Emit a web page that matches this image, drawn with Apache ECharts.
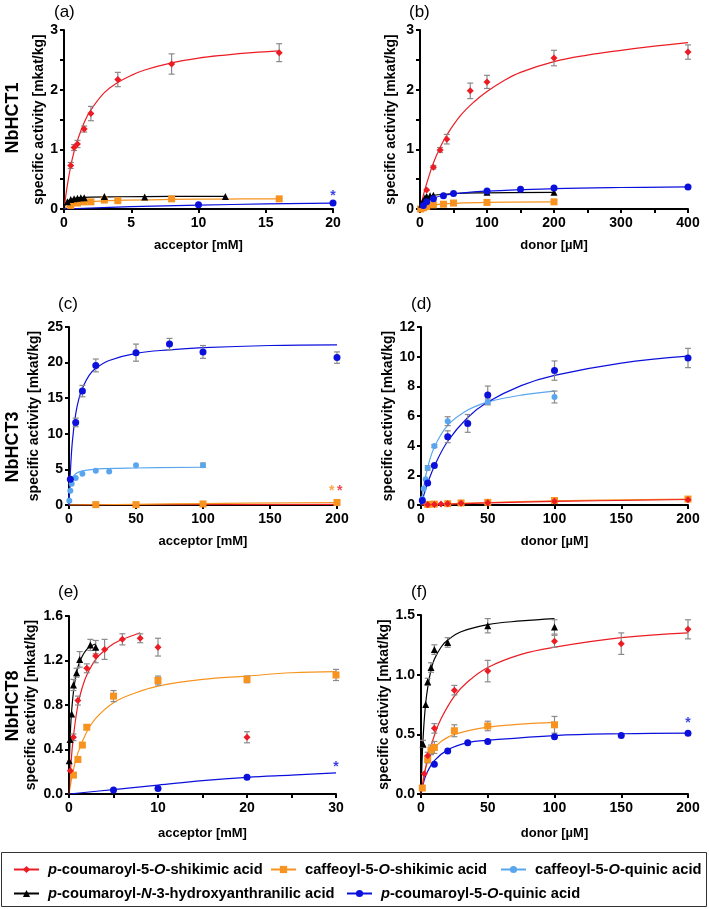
<!DOCTYPE html>
<html>
<head>
<meta charset="UTF-8">
<title></title>
<style>html,body{margin:0;padding:0;background:#fff;} #main{width:709px;height:909px;}</style>
</head>
<body>
<div id="main"></div>
<script src="https://cdn.jsdelivr.net/npm/echarts@6/dist/echarts.min.js"></script>
<script>
// compounds: pcs = p-coumaroyl-5-O-shikimic, cs = caffeoyl-5-O-shikimic, cq = caffeoyl-5-O-quinic,
// pch = p-coumaroyl-N-3-hydroxyanthranilic, pcq = p-coumaroyl-5-O-quinic
var names = ['p-coumaroyl-5-O-shikimic acid', 'caffeoyl-5-O-shikimic acid', 'caffeoyl-5-O-quinic acid',
  'p-coumaroyl-N-3-hydroxyanthranilic acid', 'p-coumaroyl-5-O-quinic acid'];
var richNames = ['{i|p}-coumaroyl-5-{i|O}-shikimic acid', 'caffeoyl-5-{i|O}-shikimic acid', 'caffeoyl-5-{i|O}-quinic acid',
  '{i|p}-coumaroyl-{i|N}-3-hydroxyanthranilic acid', '{i|p}-coumaroyl-5-{i|O}-quinic acid'];
var colors = ['#ec1c24', '#f7931e', '#5aa6ee', '#000000', '#0b10dc'];
var symbols = ['diamond', 'rect', 'circle', 'triangle', 'circle'];
var sizes = [7, 7, 6, 7, 7];
var PCS = 0, CS = 1, CQ = 2, PCH = 3, PCQ = 4;

// panel titles / axis
var panelTags = ['(a)', '(b)', '(c)', '(d)', '(e)', '(f)'];
var enzymes = ['NbHCT1', 'NbHCT3', 'NbHCT8'];
var xMax = [20, 400, 200, 200, 30, 200];
var xStep = [5, 100, 50, 50, 10, 50];
var yMax = [3, 3, 25, 12, 1.6, 1.5];
var yStep = [1, 1, 5, 2, 0.4, 0.5];

// points: [x, y, sd]   fits: [x, y]
// (a) NbHCT1, acceptor
var a_pcs_pts = [[0.5,0.73,0.05],[0.75,1.03,0.05],[1,1.09,0.06],[1.5,1.34,0.05],[2,1.6,0.12],[4,2.17,0.12],[8,2.43,0.17],[16,2.62,0.15]];
var a_pcs_fit = [[0,0],[0.25,0.4],[0.5,0.72],[0.75,0.96],[1,1.15],[1.5,1.45],[2,1.66],[3,1.95],[4,2.12],[5,2.24],[6,2.33],[8,2.45],[10,2.53],[12,2.58],[14,2.62],[16,2.65]];
var a_pch_pts = [[0.25,0.12,0],[0.5,0.16,0],[0.75,0.17,0],[1,0.18,0],[1.25,0.19,0],[1.5,0.19,0],[3,0.21,0],[6,0.2,0],[12,0.21,0]];
var a_pch_fit = [[0,0],[0.1,0.08],[0.25,0.13],[0.5,0.16],[1,0.185],[2,0.2],[4,0.205],[8,0.21],[12,0.21]];
var a_cs_pts = [[0.5,0.06,0],[1,0.1,0],[1.5,0.12,0],[2,0.12,0],[3,0.15,0],[4,0.14,0],[8,0.17,0],[16,0.17,0]];
var a_cs_fit = [[0,0],[0.25,0.04],[0.5,0.07],[1,0.1],[2,0.125],[4,0.145],[8,0.16],[12,0.167],[16,0.17]];
var a_pcq_pts = [[10,0.07,0],[20,0.1,0]];
var a_pcq_fit = [[0,0],[5,0.04],[10,0.065],[15,0.085],[20,0.1]];
var a_stars = [[20,0.22,PCQ]];

// (b) NbHCT1, donor
var b_pcs_pts = [[10,0.32,0],[20,0.7,0.03],[30,0.99,0.04],[40,1.17,0.08],[75,1.98,0.13],[100,2.13,0.11],[200,2.53,0.13],[400,2.63,0.12]];
var b_pcs_fit = [[0,0],[5,0.23],[10,0.43],[20,0.77],[30,1.03],[40,1.24],[60,1.56],[80,1.79],[100,1.97],[125,2.15],[150,2.29],[200,2.47],[250,2.58],[300,2.66],[350,2.73],[400,2.79]];
var b_pcq_pts = [[5,0.06,0],[10,0.12,0],[20,0.17,0],[35,0.22,0],[50,0.26,0],[100,0.3,0],[150,0.33,0],[200,0.35,0],[400,0.37,0]];
var b_pcq_fit = [[0,0],[5,0.07],[10,0.12],[20,0.18],[35,0.23],[50,0.255],[100,0.3],[200,0.34],[300,0.36],[400,0.37]];
var b_pch_pts = [[2.5,0.08,0],[5,0.14,0],[7.5,0.19,0],[10,0.21,0],[15,0.22,0],[20,0.23,0],[100,0.28,0],[200,0.28,0]];
var b_pch_fit = [[0,0],[2.5,0.1],[5,0.15],[10,0.2],[20,0.23],[50,0.26],[100,0.27],[200,0.28]];
var b_cs_pts = [[1,0.0,0],[5,0.02,0],[10,0.04,0],[20,0.07,0],[35,0.08,0],[50,0.1,0],[100,0.11,0],[200,0.12,0]];
var b_cs_fit = [[0,0],[5,0.025],[10,0.045],[20,0.065],[35,0.085],[50,0.095],[100,0.11],[200,0.12]];

// (c) NbHCT3, acceptor
var c_pcq_pts = [[1,3.6,0],[5,11.6,0.6],[10,16.0,0.8],[20,19.6,0.9],[50,21.4,1.2],[75,22.6,0.8],[100,21.5,0.9],[200,20.7,0.8]];
var c_pcq_fit = [[0,0],[0.5,2.4],[1,4.5],[2.5,8.9],[5,12.8],[7.5,15],[10,16.4],[15,18.2],[20,19.2],[30,20.3],[50,21.3],[75,21.8],[100,22.1],[150,22.4],[200,22.5]];
var c_cq_pts = [[0.25,0.6,0],[1,2.0,0],[2,3.0,0],[5,3.8,0],[10,4.4,0],[20,4.8,0],[30,4.7,0],[50,5.6,0],[100,5.6,0.3]];
var c_cq_fit = [[0,0],[0.5,1.8],[1,2.7],[2,3.6],[5,4.4],[10,4.8],[20,5.05],[50,5.2],[100,5.3]];
var c_cs_pts = [[20,0.05,0],[50,0.05,0],[100,0.15,0],[200,0.35,0]];
var c_cs_fit = [[0,0],[50,0.1],[100,0.2],[200,0.35]];
var c_pcs_fit = [[0,0],[200,0.1]];
var c_stars = [[196,1.9,CS],[202,1.9,PCS]];

// (d) NbHCT3, donor
var d_pcq_pts = [[1,0.3,0],[5,1.48,0],[10,2.67,0],[20,4.6,0.4],[35,5.5,0.6],[50,7.42,0.6],[100,9.06,0.65],[200,9.91,0.65]];
var d_pcq_fit = [[0,0],[2,0.63],[5,1.48],[10,2.62],[20,4.3],[35,5.9],[50,6.94],[75,8.05],[100,8.74],[150,9.57],[200,10.04]];
var d_cq_pts = [[1,0.4,0],[2,1.1,0],[3.5,1.73,0],[5,2.5,0.15],[10,3.97,0.1],[20,5.65,0.3],[50,6.95,0.2],[100,7.28,0.4]];
var d_cq_fit = [[0,0],[2,1.23],[5,2.53],[10,3.9],[20,5.37],[35,6.4],[50,6.94],[75,7.41],[100,7.68]];
var d_cs_pts = [[5,0.04,0],[10,0.06,0],[20,0.09,0],[30,0.14,0],[50,0.18,0],[100,0.3,0],[200,0.4,0]];
var d_cs_fit = [[0,0],[50,0.17],[100,0.28],[200,0.4]];
var d_pcs_pts = [[5,0.02,0],[10,0.04,0],[15,0.06,0],[20,0.08,0],[30,0.12,0],[50,0.15,0],[100,0.25,0],[200,0.36,0]];
var d_pcs_fit = [[0,0],[50,0.14],[100,0.24],[200,0.37]];

// (e) NbHCT8, acceptor
var e_pch_pts = [[0.02,0.3,0],[0.12,0.49,0],[0.3,0.72,0],[0.5,0.98,0.05],[0.85,1.09,0.04],[1.2,1.21,0.07],[2.4,1.34,0.05],[3,1.32,0.06]];
var e_pch_fit = [[0,0],[0.05,0.3],[0.15,0.55],[0.3,0.75],[0.6,0.98],[1,1.14],[1.5,1.24],[2,1.3],[2.5,1.33],[3,1.35]];
var e_pcs_pts = [[0.15,0.21,0],[0.5,0.51,0.03],[1,0.84,0.04],[2,1.13,0.04],[3,1.24,0.06],[4,1.3,0.09],[6,1.39,0.05],[8,1.4,0.04],[10,1.32,0.08],[20,0.51,0.05]];
var e_pcs_fit = [[0,0],[0.25,0.3],[0.5,0.52],[1,0.8],[1.5,0.96],[2,1.07],[3,1.21],[4,1.29],[5,1.35],[6,1.39],[7,1.42],[8,1.45]];
var e_cs_pts = [[0.5,0.17,0],[1,0.31,0],[1.5,0.44,0],[2,0.6,0.02],[5,0.88,0.05],[10,1.02,0.04],[20,1.03,0.03],[30,1.07,0.05]];
var e_cs_fit = [[0,0],[0.5,0.22],[1,0.37],[2,0.56],[3,0.68],[5,0.82],[7.5,0.91],[10,0.97],[15,1.03],[20,1.06],[25,1.09],[30,1.1]];
var e_pcq_pts = [[5,0.035,0],[10,0.05,0],[20,0.15,0]];
var e_pcq_fit = [[0,0],[5,0.04],[10,0.08],[15,0.12],[20,0.15],[25,0.17],[30,0.19]];
var e_stars = [[30,0.24,PCQ]];

// (f) NbHCT8, donor
var f_pch_pts = [[1.5,0.42,0.03],[3.5,0.75,0],[5,0.94,0.03],[7.5,1.06,0.04],[10,1.21,0.04],[20,1.27,0.04],[50,1.41,0.06],[100,1.4,0.06]];
var f_pch_fit = [[0,0],[1,0.34],[2,0.55],[3.5,0.76],[5,0.89],[7.5,1.04],[10,1.13],[15,1.23],[20,1.29],[30,1.36],[50,1.42],[75,1.45],[100,1.47]];
var f_pcs_pts = [[2.5,0.17,0],[5,0.32,0.03],[10,0.55,0.04],[25,0.87,0.04],[50,1.03,0.09],[100,1.28,0.05],[150,1.26,0.09],[200,1.38,0.08]];
var f_pcs_fit = [[0,0],[2.5,0.16],[5,0.3],[10,0.49],[15,0.63],[25,0.82],[35,0.94],[50,1.06],[75,1.17],[100,1.23],[150,1.31],[200,1.35]];
var f_cs_pts = [[1,0.05,0],[5,0.29,0.03],[7.5,0.37,0.04],[10,0.39,0.05],[25,0.53,0.05],[50,0.57,0.04],[100,0.58,0.07]];
var f_cs_fit = [[0,0],[2.5,0.17],[5,0.27],[10,0.38],[15,0.44],[25,0.5],[50,0.56],[75,0.585],[100,0.6]];
var f_pcq_pts = [[10,0.25,0],[20,0.36,0],[35,0.43,0],[50,0.44,0],[100,0.48,0],[150,0.49,0],[200,0.51,0]];
var f_pcq_fit = [[0,0],[2.5,0.12],[5,0.19],[10,0.28],[20,0.37],[35,0.43],[50,0.45],[100,0.49],[150,0.505],[200,0.51]];
var f_stars = [[200,0.59,PCQ]];

var FONT = 'Liberation Sans';
var chart = echarts.init(document.getElementById('main'));

var grids = [
  {left: 64, top: 30, width: 269, height: 179},
  {left: 420, top: 30, width: 268, height: 179},
  {left: 69, top: 327, width: 268, height: 178},
  {left: 421, top: 327, width: 267, height: 178},
  {left: 69, top: 616, width: 267, height: 178},
  {left: 421, top: 615, width: 267, height: 179}
];
grids.forEach(function (g) { g.containLabel = false; g.outerBoundsMode = 'none'; });

var yNameGap = [18, 22, 28, 26, 31, 30];
var xNameGap = [30, 30, 30, 30, 33, 33];
var xMinor = [0, 2, 0, 0, 2, 0];
var yMinor = [2, 2, 0, 0, 0, 0];

var blackLine = {color: '#000', width: 2};
var xAxes = [], yAxes = [];
for (var g = 0; g < 6; g++) {
  xAxes.push({
    type: 'value', gridIndex: g, min: 0, max: xMax[g], interval: xStep[g],
    name: g % 2 === 0 ? 'acceptor [mM]' : 'donor [µM]',
    nameLocation: 'middle', nameGap: xNameGap[g], nameMoveOverlap: false,
    nameTextStyle: {fontFamily: FONT, fontWeight: 'bold', fontSize: 13, color: '#000'},
    axisLine: {show: true, onZero: false, lineStyle: blackLine},
    axisTick: {show: true, length: 4, lineStyle: blackLine},
    minorTick: {show: xMinor[g] > 0, splitNumber: xMinor[g] || 5, length: 4, lineStyle: blackLine},
    splitLine: {show: false},
    axisLabel: {fontFamily: FONT, fontWeight: 'bold', fontSize: 14, color: '#000', margin: 7, showMinLabel: true, showMaxLabel: true}
  });
  yAxes.push({
    type: 'value', gridIndex: g, min: 0, max: yMax[g], interval: yStep[g],
    name: 'specific activity [mkat/kg]',
    nameLocation: 'middle', nameGap: yNameGap[g], nameMoveOverlap: false,
    nameTextStyle: {fontFamily: FONT, fontWeight: 'bold', fontSize: 14, color: '#000'},
    axisLine: {show: true, onZero: false, lineStyle: blackLine},
    axisTick: {show: true, length: 4, lineStyle: blackLine},
    minorTick: {show: yMinor[g] > 0, splitNumber: yMinor[g] || 5, length: 4, lineStyle: blackLine},
    splitLine: {show: false},
    axisLabel: {
      fontFamily: FONT, fontWeight: 'bold', fontSize: 14, color: '#000', margin: 6, showMinLabel: true, showMaxLabel: true,
      formatter: (g >= 4) ? function (v) { return v.toFixed(1); } : null
    }
  });
}

function errorBar(params, api) {
  var x = api.value(0), y = api.value(1), e = api.value(2);
  var top = api.coord([x, y + e]), bot = api.coord([x, y - e]);
  var w = 3, st = {stroke: '#8a8a8a', lineWidth: 1.2};
  return {type: 'group', children: [
    {type: 'line', shape: {x1: top[0], y1: top[1], x2: bot[0], y2: bot[1]}, style: st},
    {type: 'line', shape: {x1: top[0] - w, y1: top[1], x2: top[0] + w, y2: top[1]}, style: st},
    {type: 'line', shape: {x1: bot[0] - w, y1: bot[1], x2: bot[0] + w, y2: bot[1]}, style: st}
  ]};
}

var curves = [], bars = [], marks = [], stars = [];
function addPanel(g, list, starList) {
  list.forEach(function (it) {
    var k = it[0], pts = it[1], fit = it[2];
    if (fit) {
      curves.push({
        type: 'line', name: names[k], xAxisIndex: g, yAxisIndex: g, data: fit,
        smooth: 0.4, showSymbol: false, symbol: symbols[k], symbolSize: sizes[k],
        lineStyle: {color: colors[k], width: 1.2}, itemStyle: {color: colors[k]}, silent: true, z: 2
      });
    }
    if (pts) {
      bars.push({
        type: 'custom', xAxisIndex: g, yAxisIndex: g, renderItem: errorBar, silent: true, z: 3,
        data: pts.filter(function (p) { return p[2] > 0; })
      });
      marks.push({
        type: 'scatter', name: names[k], xAxisIndex: g, yAxisIndex: g, symbol: symbols[k], symbolSize: sizes[k],
        itemStyle: {color: colors[k], opacity: 1}, silent: true, z: 4, clip: false,
        data: pts.map(function (p) { return [p[0], p[1]]; })
      });
    }
  });
  (starList || []).forEach(function (s) {
    stars.push({
      type: 'scatter', xAxisIndex: g, yAxisIndex: g, symbol: 'circle', symbolSize: 1, clip: false, silent: true, z: 5,
      itemStyle: {color: 'rgba(0,0,0,0)'},
      label: {show: true, position: 'inside', formatter: '*', color: colors[s[2]], fontSize: 14, fontWeight: 'bold', fontFamily: FONT},
      data: [[s[0], s[1]]]
    });
  });
}

addPanel(0, [[PCS, a_pcs_pts, a_pcs_fit], [CS, a_cs_pts, a_cs_fit], [CQ, null, null], [PCH, a_pch_pts, a_pch_fit], [PCQ, a_pcq_pts, a_pcq_fit]], a_stars);
addPanel(1, [[CS, b_cs_pts, b_cs_fit], [PCH, b_pch_pts, b_pch_fit], [PCQ, b_pcq_pts, b_pcq_fit], [PCS, b_pcs_pts, b_pcs_fit]]);
addPanel(2, [[PCS, null, c_pcs_fit], [CS, c_cs_pts, c_cs_fit], [CQ, c_cq_pts, c_cq_fit], [PCQ, c_pcq_pts, c_pcq_fit]], c_stars);
addPanel(3, [[CS, d_cs_pts, d_cs_fit], [PCS, d_pcs_pts, d_pcs_fit], [CQ, d_cq_pts, d_cq_fit], [PCQ, d_pcq_pts, d_pcq_fit]]);
addPanel(4, [[PCQ, e_pcq_pts, e_pcq_fit], [CS, e_cs_pts, e_cs_fit], [PCS, e_pcs_pts, e_pcs_fit], [PCH, e_pch_pts, e_pch_fit]], e_stars);
addPanel(5, [[PCQ, f_pcq_pts, f_pcq_fit], [CS, f_cs_pts, f_cs_fit], [PCS, f_pcs_pts, f_pcs_fit], [PCH, f_pch_pts, f_pch_fit]], f_stars);

// one legend per entry so each sits where the original has it
var legendPos = [[13, 862], [270, 862], [500, 862], [13, 886], [346, 886]];
var legends = legendPos.map(function (p, k) {
  return {
    data: [names[k]], left: p[0], top: p[1], padding: 0, itemWidth: 25, itemHeight: 9, itemGap: 6,
    selectedMode: false,
    formatter: function () { return richNames[k]; },
    textStyle: {
      fontFamily: FONT, fontWeight: 'bold', fontSize: 14.7, color: '#000', padding: [0, 0, 0, 4],
      rich: {i: {fontFamily: FONT, fontWeight: 'bold', fontStyle: 'italic', fontSize: 14.7, color: '#000'}}
    }
  };
});

var tagPos = [[54, 4], [409, 4], [58, 296], [411, 296], [58, 584], [411, 584]];
var graphics = tagPos.map(function (p, i) {
  return {type: 'text', x: p[0], y: p[1], style: {text: panelTags[i], font: '17px ' + FONT, fill: '#000'}};
});
var enzPos = [[13, 118], [13, 447], [13, 706]];
enzPos.forEach(function (p, i) {
  graphics.push({type: 'text', x: p[0], y: p[1], rotation: Math.PI / 2,
    style: {text: enzymes[i], font: 'bold 18px ' + FONT, fill: '#000', align: 'center', verticalAlign: 'middle'}});
});
graphics.push({type: 'rect', shape: {x: 1.5, y: 852.5, width: 705, height: 54}, style: {fill: 'none', stroke: '#333', lineWidth: 1}});

chart.setOption({
  animation: false,
  backgroundColor: '#fff',
  grid: grids,
  xAxis: xAxes,
  yAxis: yAxes,
  legend: legends,
  graphic: graphics,
  series: curves.concat(bars, marks, stars)
});
</script>
</body>
</html>
